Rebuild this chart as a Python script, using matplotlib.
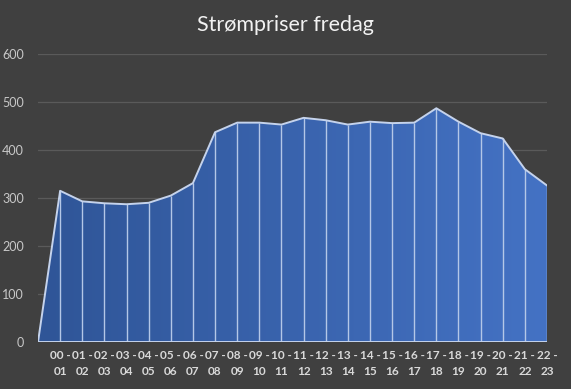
import matplotlib
matplotlib.use("Agg")
import matplotlib.pyplot as plt
import numpy as np
from matplotlib.colors import LinearSegmentedColormap

# data: first slot is the blank starting point at 0
hours = [""] + [f"{h:02d} -\n{h + 1:02d}" for h in range(23)]
prices = [0, 315, 293, 289, 287, 290, 305, 331, 437, 457, 457, 453, 467,
          462, 453, 459, 456, 457, 487, 459, 435, 424, 360, 326]

BG = "#404040"

plt.rcParams["font.family"] = ["Lato", "DejaVu Sans"]

fig = plt.figure(figsize=(5.71, 3.89), dpi=100, facecolor=BG)
ax = fig.add_axes([38 / 571, 47 / 389, 509 / 571, 288 / 389])
ax.set_facecolor(BG)

x = np.arange(len(prices))
ax.set_xlim(0, len(prices) - 1)
ax.set_ylim(0, 600)

# gradient fill clipped to the area polygon
poly = ax.fill_between(x, prices, 0, color="none", lw=0)
cmap = LinearSegmentedColormap.from_list("blu", ["#2f5597", "#4472c4"])
grad = np.linspace(0, 1, 256).reshape(1, -1)
im = ax.imshow(grad, cmap=cmap, aspect="auto",
               extent=[0, len(prices) - 1, 0, 600], zorder=2)
im.set_clip_path(poly.get_paths()[0], transform=ax.transData)

ax.vlines(x[1:], 0, prices[1:], color="#b4c7e7", lw=1, zorder=3)
ax.plot(x, prices, color="#c5d3ec", lw=1.4, zorder=4)
ax.plot([0, len(prices) - 1], [0, 0], color="#c5d3ec", lw=1.4, zorder=4)

ax.set_yticks(range(0, 601, 100))
ax.yaxis.grid(True, color="#5a5a5a", lw=0.9)
ax.set_axisbelow(True)
for s in ax.spines.values():
    s.set_visible(False)

ax.set_xticks(x)
ax.set_xticklabels(hours, fontsize=8.5, fontweight="bold", color="#d9d9d9",
                   linespacing=1.5)
ax.tick_params(axis="x", length=0, pad=6)
ax.tick_params(axis="y", length=0, pad=10, labelsize=9, labelcolor="#c8c8c8")

fig.text(0.5, 0.935, "Strømpriser fredag", ha="center", va="center",
         fontsize=15.5, color="#f2f2f2")

fig.savefig("out.png", dpi=100, facecolor=BG)
